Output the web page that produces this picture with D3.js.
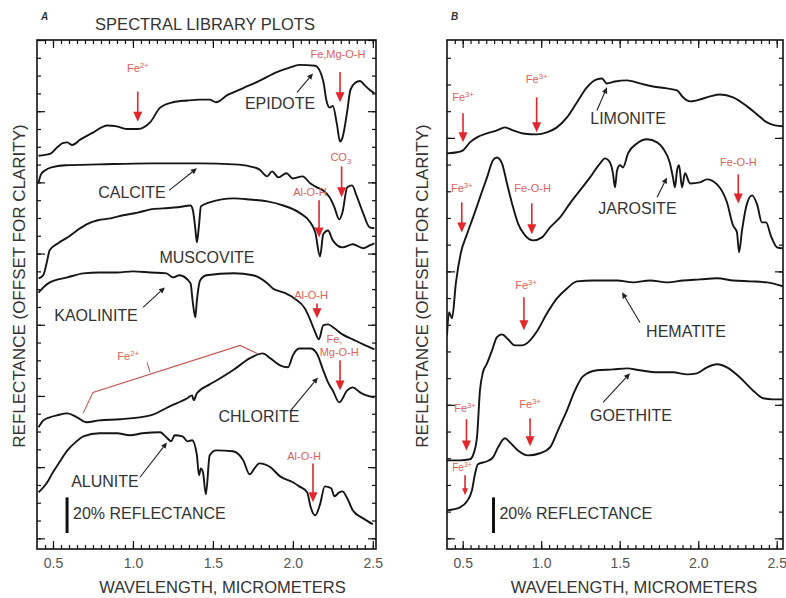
<!DOCTYPE html>
<html>
<head>
<meta charset="utf-8">
<script src="https://cdn.jsdelivr.net/npm/d3@7"></script>
<style>
body { margin: 0; background: #fff; }
text { font-family: "Liberation Sans", Arial, sans-serif; }
</style>
</head>
<body>
<svg id="chart" width="786" height="598"></svg>
<script>
// spectra: [wavelength in micrometers, reflectance in % (offset for clarity)]
var epidote = [[0.41,215],[0.48,216],[0.53,220],[0.56,222],[0.59,222.5],[0.62,221],[0.67,224],[0.75,228],[0.84,232],[0.90,231.5],[0.96,230],[1.03,230],[1.11,234],[1.17,242],[1.25,245],[1.34,246],[1.42,246.5],[1.48,246.5],[1.52,245],[1.59,249],[1.69,253],[1.79,257],[1.90,262],[1.98,264.5],[2.04,266],[2.14,265.5],[2.19,257],[2.21,246],[2.23,242],[2.25,243],[2.275,233],[2.295,223],[2.31,225],[2.34,240],[2.36,252],[2.39,256],[2.42,257],[2.45,254.5],[2.48,252],[2.51,250]]
var calcite = [[0.41,200],[0.425,204.5],[0.45,206.7],[0.49,208.4],[0.58,209.6],[0.79,210.1],[1.11,210.7],[1.42,210.7],[1.63,210.1],[1.73,209],[1.79,207.3],[1.84,203.4],[1.87,206.2],[1.91,202.8],[1.96,205.1],[2.0,202.2],[2.06,203.4],[2.11,199.4],[2.15,197.2],[2.19,195.5],[2.23,191.6],[2.26,186],[2.29,179.2],[2.31,183.1],[2.34,197.2],[2.37,198.3],[2.40,192.1],[2.44,182.6],[2.48,174.7],[2.51,174.2]]
var muscovite = [[0.41,146],[0.44,148],[0.46,154.5],[0.48,162],[0.53,165.7],[0.59,169],[0.65,173],[0.71,176.4],[0.78,178.7],[0.86,179.8],[0.94,181.5],[1.03,183],[1.11,184.8],[1.19,185.4],[1.28,186],[1.36,187],[1.375,184.3],[1.39,174],[1.40,166.3],[1.413,175.8],[1.425,186.5],[1.48,188.8],[1.63,191],[1.73,190.4],[1.84,189.3],[1.94,187],[2.04,183],[2.11,177.5],[2.14,172],[2.17,158.4],[2.19,170.8],[2.22,173],[2.25,167.4],[2.31,163.5],[2.375,165.2],[2.44,163],[2.48,164.6],[2.51,165.7]]
var kaolinite = [[0.41,138],[0.44,141],[0.48,143.8],[0.59,146.6],[0.69,148.9],[0.79,149.4],[0.90,149.4],[1.0,150],[1.11,149.4],[1.21,148.9],[1.25,146.6],[1.29,147.8],[1.36,143.3],[1.375,132],[1.39,124.2],[1.40,133.7],[1.42,144.9],[1.46,147.8],[1.63,148.9],[1.75,147.8],[1.84,143.3],[1.875,140.4],[1.94,138.2],[2.01,134.8],[2.075,129.2],[2.11,122.5],[2.14,115.7],[2.163,111.8],[2.19,119.7],[2.22,120.2],[2.26,118],[2.31,114.6],[2.375,111.8],[2.44,109],[2.51,106.2]]
var chlorite = [[0.41,62.4],[0.44,66.3],[0.48,68],[0.525,69.1],[0.59,70.2],[0.65,68],[0.71,65.2],[0.79,66.3],[0.92,66.9],[1.11,69.1],[1.23,74.2],[1.34,78.7],[1.37,80.3],[1.38,77.5],[1.40,81.5],[1.48,86.5],[1.525,88.8],[1.625,94.4],[1.73,101.1],[1.81,103.9],[1.86,101.1],[1.92,97.2],[1.97,96.1],[2.0,102.8],[2.04,106.7],[2.11,106.7],[2.15,103.9],[2.19,94.4],[2.22,87.6],[2.25,83.1],[2.29,76.4],[2.34,83.1],[2.375,84.8],[2.42,82],[2.46,80.3],[2.51,79.2]]
var alunite = [[0.41,25.8],[0.46,30.9],[0.50,37.1],[0.54,42.7],[0.59,49.4],[0.64,53.9],[0.69,57.3],[0.79,59],[0.90,59],[0.98,57.9],[1.06,59],[1.17,59.6],[1.21,56.7],[1.24,54.5],[1.26,57.9],[1.31,57.3],[1.34,54.5],[1.37,55.1],[1.40,46.6],[1.413,35.4],[1.425,39.3],[1.438,37.1],[1.456,24.7],[1.48,46.6],[1.52,49.4],[1.625,48.9],[1.69,43.8],[1.73,36],[1.76,39.3],[1.79,42.1],[1.86,39.9],[1.92,34.8],[2.0,31.5],[2.04,29.2],[2.09,25.8],[2.11,18],[2.14,12.9],[2.17,19.1],[2.20,29.2],[2.24,28.1],[2.26,23.6],[2.29,25.8],[2.31,26.4],[2.34,22.5],[2.375,15.7],[2.44,11.2],[2.50,7.9]]

var limonite = [[0.40,216.3],[0.464,216.9],[0.502,218],[0.546,222.5],[0.591,225.3],[0.655,227.5],[0.718,229.2],[0.769,230.9],[0.82,229.2],[0.884,227.5],[0.973,227],[1.036,228.1],[1.10,230.9],[1.164,236.5],[1.227,244.9],[1.291,253.4],[1.354,257.9],[1.387,258.4],[1.418,255.6],[1.47,256.7],[1.546,257.3],[1.629,255.6],[1.712,253.9],[1.801,252.8],[1.865,251.7],[1.903,247.8],[1.948,245.5],[1.992,246.1],[2.075,248.3],[2.139,249.4],[2.222,247.8],[2.311,242.7],[2.375,238.2],[2.438,233.7],[2.489,232],[2.54,231.5]]
var jarosite = [[0.40,114],[0.413,127],[0.432,123.6],[0.457,143.8],[0.489,160.7],[0.527,170.8],[0.566,180.3],[0.61,191.6],[0.655,202.8],[0.693,212.4],[0.718,214],[0.75,210.7],[0.782,199.4],[0.814,188.2],[0.852,177],[0.897,170.2],[0.948,167.4],[1.005,169.1],[1.056,174.7],[1.12,180.3],[1.183,188.2],[1.247,195.5],[1.311,202.8],[1.375,210.7],[1.406,213.5],[1.438,211.2],[1.457,205.1],[1.47,197.2],[1.483,206.7],[1.502,209.6],[1.521,208.4],[1.553,216.3],[1.61,221.9],[1.674,224.2],[1.738,222.5],[1.776,219.1],[1.82,210.7],[1.839,202.8],[1.852,197.2],[1.865,206.7],[1.878,209.6],[1.897,197.2],[1.916,205.1],[1.948,199.4],[2.011,200],[2.056,201.7],[2.12,198.9],[2.183,188.8],[2.222,175.8],[2.247,171.9],[2.26,160.7],[2.279,173],[2.311,188.2],[2.343,192.7],[2.375,187.6],[2.406,177.5],[2.432,177.5],[2.464,169.7],[2.502,163.5],[2.54,162.9]]
var hematite = [[0.40,43.8],[0.483,43.8],[0.546,44.4],[0.572,48.3],[0.591,56.7],[0.61,83.1],[0.629,93.3],[0.655,98.3],[0.687,105.6],[0.718,113],[0.75,114.6],[0.789,111.8],[0.833,108.4],[0.878,108.4],[0.916,110.1],[0.973,116.3],[1.037,126.4],[1.10,134.8],[1.164,140.4],[1.228,144.4],[1.33,144.9],[1.483,144.9],[1.585,143.8],[1.693,144.9],[1.801,143.8],[1.903,144.9],[2.011,145.5],[2.12,146.1],[2.222,144.9],[2.33,144.4],[2.438,143.8],[2.54,141.6]]
var goethite = [[0.40,15.7],[0.483,17.4],[0.527,20.8],[0.559,27],[0.578,36],[0.597,41.6],[0.655,43.3],[0.693,45.5],[0.725,51.1],[0.769,56.2],[0.801,53.9],[0.852,49.4],[0.916,46.6],[0.992,47.8],[1.056,51.1],[1.107,60.7],[1.164,71.9],[1.215,83.1],[1.266,91],[1.355,94.4],[1.457,94.9],[1.546,95.5],[1.629,94.4],[1.738,93.3],[1.839,93.3],[1.929,92.1],[1.992,92.7],[2.056,96.1],[2.12,97.8],[2.183,96.1],[2.266,90.4],[2.349,83.1],[2.413,78.7],[2.476,78.1],[2.54,78.1]]

var xTickLabels = [0.5, 1.0, 1.5, 2.0, 2.5]

// mineral names: text anchor [wl, %] and pointer arrow from/to
var namesA = [
    { t: 'EPIDOTE',   at: [1.92, 241],   from: [2.026, 250.6], to: [2.126, 261.2] },
    { t: 'CALCITE',   at: [0.994, 191],  from: [1.226, 195.5], to: [1.40, 207.9] },
    { t: 'MUSCOVITE', at: [1.463, 154.5] },
    { t: 'KAOLINITE', at: [0.769, 121.9], from: [1.063, 129.8], to: [1.20, 141] },
    { t: 'CHLORITE',  at: [1.788, 65.2], from: [1.982, 71.3], to: [2.157, 90.4] },
    { t: 'ALUNITE',   at: [0.825, 28.7], from: [1.044, 34.3], to: [1.213, 53.9] }
]
var namesB = [
    { t: 'LIMONITE', at: [1.553, 232.6], from: [1.355, 240.4], to: [1.419, 253.4] },
    { t: 'JAROSITE', at: [1.613, 182],   from: [1.738, 191.6], to: [1.801, 202.8] },
    { t: 'HEMATITE', at: [1.922, 112.9], from: [1.629, 121.3], to: [1.515, 138.2] },
    { t: 'GOETHITE', at: [1.572, 65.7],  from: [1.394, 76.4],  to: [1.566, 92.7] }
]

// absorption features: arrow at wl from % to %, label parts at [wl, %]
var bandsA = [
    { wl: 1.03,  from: 251, to: 234,   label: [['Fe'], ['2+', 'sup']], at: [1.03, 262] },
    { wl: 2.295, from: 262, to: 245,   label: [['Fe,Mg-O-H']], at: [2.282, 269.7] },
    { wl: 2.305, from: 209, to: 191.6, label: [['CO'], ['3', 'sub']], at: [2.30, 212] },
    { wl: 2.164, from: 190, to: 169,   label: [['Al-O-H']], at: [2.107, 192.1] },
    { wl: 2.151, from: 132, to: 123.6, label: [['Al-O-H']], at: [2.114, 134.3] },
    { wl: 2.295, from: 100, to: 83.1,  label: [['Fe,']], at: [2.21, 109.6], label2: [['Mg-O-H']], at2: [2.29, 102.2] },
    { wl: 2.126, from: 42,  to: 20.2,  label: [['Al-O-H']], at: [2.07, 43.8] }
]
var bandsB = [
    { wl: 0.502, from: 238.8, to: 222.5, label: [['Fe'], ['3+', 'sup']], at: [0.502, 245.5] },
    { wl: 0.971, from: 247.8, to: 228.1, label: [['Fe'], ['3+', 'sup']], at: [0.971, 255.6] },
    { wl: 0.494, from: 188.8, to: 171.9, label: [['Fe'], ['3+', 'sup']], at: [0.494, 194.4] },
    { wl: 0.94,  from: 188.2, to: 170.8, label: [['Fe-O-H']], at: [0.945, 194.4] },
    { wl: 2.255, from: 204.5, to: 188.2, label: [['Fe-O-H']], at: [2.255, 209] },
    { wl: 0.89,  from: 135.4, to: 116.9, label: [['Fe'], ['3+', 'sup']], at: [0.903, 139.9] },
    { wl: 0.524, from: 66.9,  to: 49.4,  label: [['Fe'], ['3+', 'sup']], at: [0.515, 70.8] },
    { wl: 0.515, from: 35.4,  to: 24.2,  label: [['Fe'], ['3+', 'sup']], at: [0.496, 37.6], small: true },
    { wl: 0.929, from: 67.4,  to: 51.7,  label: [['Fe'], ['3+', 'sup']], at: [0.929, 73] }
]

// chlorite broad Fe2+ bracket (wl, %)
var bracketA = [[0.688, 70.2], [0.75, 82], [1.67, 108.4], [1.776, 103.9]]
var bracketTick = [[1.088, 98.9], [1.107, 93.3]]

var W = 786
var frameTop = 40
var frameBottom = 549
var yDomain = [-6, 280]
var red = '#e3262b'
var redText = '#e0605a'

var svg = d3.select('#chart')

function addLabel(sel, parts, size) {
    parts.forEach(function(p) {
        var ts = sel.append('tspan').text(p[0])
        if (p[1] === 'sup') ts.attr('font-size', size * 0.7).attr('dy', -size * 0.4)
        if (p[1] === 'sub') ts.attr('font-size', size * 0.7).attr('dy', size * 0.3)
    })
}

function drawPanel(p) {
    var x = d3.scaleLinear().domain(p.xDomain).range([p.left, p.right])
    var y = d3.scaleLinear().domain(yDomain).range([frameBottom, frameTop])
    var g = svg.append('g')

    g.append('clipPath').attr('id', 'clip' + p.id)
        .append('rect')
        .attr('x', p.left).attr('y', frameTop)
        .attr('width', p.right - p.left).attr('height', frameBottom - frameTop)

    // ticks, inward on all four sides
    var xMinor = d3.range(8, 52).map(function(i) { return i * 0.05 })
        .filter(function(v) { return v > p.xDomain[0] + 0.01 && v < p.xDomain[1] })
    var yMinor = d3.range(0, 281, p.yMinor)
    var yMajor = d3.range(0, 281, p.yMajor)

    function axis(gen, pos, vals, size, fmt) {
        var a = g.append('g').attr('transform', pos)
            .call(gen.tickValues(vals).tickSize(-size).tickPadding(9).tickFormat(fmt || ''))
        a.select('.domain').remove()
        a.selectAll('line').attr('stroke', '#111').attr('stroke-width', 1.2)
        return a
    }
    axis(d3.axisBottom(x), 'translate(0,' + frameBottom + ')', xMinor, 4)
    axis(d3.axisTop(x), 'translate(0,' + frameTop + ')', xMinor, 4)
    var bottom = axis(d3.axisBottom(x), 'translate(0,' + frameBottom + ')', xTickLabels, 8, d3.format('.1f'))
    bottom.selectAll('text').attr('font-size', 14).attr('fill', '#555')
        .attr('font-family', '"Liberation Sans", Arial, sans-serif')
    axis(d3.axisTop(x), 'translate(0,' + frameTop + ')', xTickLabels, 8)
    axis(d3.axisLeft(y), 'translate(' + p.left + ',0)', yMinor, 4)
    axis(d3.axisRight(y), 'translate(' + p.right + ',0)', yMinor, 4)
    axis(d3.axisLeft(y), 'translate(' + p.left + ',0)', yMajor, 8)
    axis(d3.axisRight(y), 'translate(' + p.right + ',0)', yMajor, 8)

    g.append('rect')
        .attr('x', p.left).attr('y', frameTop)
        .attr('width', p.right - p.left).attr('height', frameBottom - frameTop)
        .attr('fill', 'none').attr('stroke', '#111').attr('stroke-width', 1.6)

    var line = d3.line()
        .x(function(d) { return x(d[0]) })
        .y(function(d) { return y(d[1]) })
        .curve(d3.curveMonotoneX)

    g.append('g').attr('clip-path', 'url(#clip' + p.id + ')')
        .selectAll('path').data(p.curves).join('path')
        .attr('d', line)
        .attr('fill', 'none').attr('stroke', '#151515').attr('stroke-width', 1.9)
        .attr('stroke-linejoin', 'round')

    // red absorption arrows
    p.bands.forEach(function(b) {
        var bx = x(b.wl), y0 = y(b.from), y1 = y(b.to)
        var hl = b.small ? 7 : 10, hw = b.small ? 3 : 4.5
        g.append('line')
            .attr('x1', bx).attr('x2', bx).attr('y1', y0).attr('y2', y1 - hl + 2)
            .attr('stroke', red).attr('stroke-width', 1.6)
        g.append('path')
            .attr('d', 'M' + (bx - hw) + ',' + (y1 - hl) + 'L' + (bx + hw) + ',' + (y1 - hl) + 'L' + bx + ',' + y1 + 'Z')
            .attr('fill', red)
        var size = b.small ? 10 : 11
        var t = g.append('text').attr('x', x(b.at[0])).attr('y', y(b.at[1]))
            .attr('text-anchor', b.label2 ? 'start' : 'middle')
            .attr('font-size', size).attr('fill', redText)
        addLabel(t, b.label, size)
        if (b.label2) {
            var t2 = g.append('text').attr('x', x(b.at2[0])).attr('y', y(b.at2[1]))
                .attr('text-anchor', 'middle').attr('font-size', size).attr('fill', redText)
            addLabel(t2, b.label2, size)
        }
    })

    if (p.bracket) {
        g.append('path').datum(p.bracket)
            .attr('d', d3.line().x(function(d) { return x(d[0]) }).y(function(d) { return y(d[1]) }))
            .attr('fill', 'none').attr('stroke', '#c9544e').attr('stroke-width', 1.1)
        g.append('path').datum(bracketTick)
            .attr('d', d3.line().x(function(d) { return x(d[0]) }).y(function(d) { return y(d[1]) }))
            .attr('fill', 'none').attr('stroke', '#c9544e').attr('stroke-width', 1)
        var bt = g.append('text').attr('x', x(0.97)).attr('y', y(100))
            .attr('text-anchor', 'middle').attr('font-size', 11).attr('fill', redText)
        addLabel(bt, [['Fe'], ['2+', 'sup']], 11)
    }

    // mineral names with black pointer arrows
    p.names.forEach(function(n) {
        g.append('text').attr('x', x(n.at[0])).attr('y', y(n.at[1]))
            .attr('text-anchor', 'middle').attr('font-size', 16).attr('fill', '#333')
            .text(n.t)
        if (!n.from) return
        var x0 = x(n.from[0]), y0 = y(n.from[1]), x1 = x(n.to[0]), y1 = y(n.to[1])
        var ang = Math.atan2(y1 - y0, x1 - x0), hl = 6, hw = 2.8
        var bx = x1 - hl * Math.cos(ang), by = y1 - hl * Math.sin(ang)
        g.append('line').attr('x1', x0).attr('y1', y0).attr('x2', bx).attr('y2', by)
            .attr('stroke', '#222').attr('stroke-width', 1.1)
        g.append('path')
            .attr('d', 'M' + x1 + ',' + y1 +
                'L' + (bx - hw * Math.sin(ang)) + ',' + (by + hw * Math.cos(ang)) +
                'L' + (bx + hw * Math.sin(ang)) + ',' + (by - hw * Math.cos(ang)) + 'Z')
            .attr('fill', '#222')
    })

    // 20% reflectance scale bar
    g.append('line')
        .attr('x1', x(p.barWl)).attr('x2', x(p.barWl))
        .attr('y1', y(3)).attr('y2', y(23))
        .attr('stroke', '#111').attr('stroke-width', 3)
    g.append('text').attr('x', x(p.barWl) + 6).attr('y', y(10.7))
        .attr('font-size', 16).attr('fill', '#333').text('20% REFLECTANCE')

    // axis titles and panel letter
    g.append('text').attr('x', (p.left + p.right) / 2 + p.titleShift).attr('y', 593)
        .attr('text-anchor', 'middle').attr('font-size', 16.5).attr('fill', '#333')
        .text('WAVELENGTH, MICROMETERS')
    g.append('text')
        .attr('transform', 'translate(' + p.yTitleX + ',286) rotate(-90)')
        .attr('text-anchor', 'middle').attr('font-size', 17).attr('fill', '#333')
        .text('REFLECTANCE (OFFSET FOR CLARITY)')
    g.append('text').attr('x', p.left + 4).attr('y', 20)
        .attr('font-size', 10).attr('font-weight', 'bold').attr('font-style', 'italic')
        .attr('fill', '#333').text(p.id)
}

drawPanel({
    id: 'A', left: 37, right: 376, xDomain: [0.4, 2.52],
    yMinor: 10, yMajor: 40,
    curves: [epidote, calcite, muscovite, kaolinite, chlorite, alunite],
    bands: bandsA, names: namesA, bracket: bracketA,
    barWl: 0.588, titleShift: 16, yTitleX: 25
})
drawPanel({
    id: 'B', left: 447, right: 783, xDomain: [0.4, 2.54],
    yMinor: 15, yMajor: 75,
    curves: [limonite, jarosite, hematite, goethite],
    bands: bandsB, names: namesB,
    barWl: 0.696, titleShift: 19, yTitleX: 427.5
})

svg.append('text').attr('x', 205).attr('y', 30)
    .attr('text-anchor', 'middle').attr('font-size', 16.5).attr('fill', '#333')
    .text('SPECTRAL LIBRARY PLOTS')
</script>
</body>
</html>
